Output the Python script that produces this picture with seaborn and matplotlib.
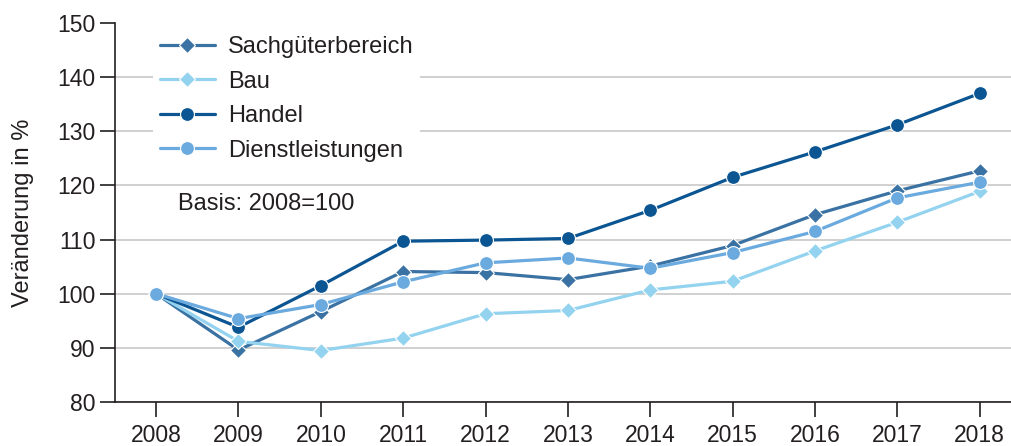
import matplotlib
matplotlib.use("Agg")
import matplotlib.pyplot as plt
import seaborn as sns
import pandas as pd

years = [2008, 2009, 2010, 2011, 2012, 2013, 2014, 2015, 2016, 2017, 2018]
sachgueter = [100, 89.6, 96.7, 104.1, 103.9, 102.6, 105.1, 108.9, 114.6, 119.0, 122.7]
bau = [100, 91.2, 89.5, 91.8, 96.3, 96.9, 100.7, 102.3, 107.9, 113.2, 118.9]
handel = [100, 93.8, 101.5, 109.7, 109.9, 110.2, 115.4, 121.5, 126.2, 131.2, 137.0]
dienst = [100, 95.4, 98.0, 102.2, 105.7, 106.6, 104.7, 107.6, 111.5, 117.7, 120.6]

series_names = ["Sachgüterbereich", "Bau", "Handel", "Dienstleistungen"]
series_values = [sachgueter, bau, handel, dienst]
colors = ["#3a72a3", "#93d3ef", "#0a5592", "#6aaade"]
markers = ["D", "D", "o", "o"]
msizes = [8, 8, 10, 10]

y_ticks = [80, 90, 100, 110, 120, 130, 140, 150]
y_label = "Veränderung in %"
note = "Basis: 2008=100"

sns.set_theme(style="white")
plt.rcParams["font.family"] = ["Liberation Sans", "DejaVu Sans"]

fig = plt.figure(figsize=(10.11, 4.46), dpi=100)
ax = fig.add_axes([0.1137, 0.0987, 0.8863, 0.8497])

for name, vals, c, m, ms in zip(series_names, series_values, colors, markers, msizes):
    df = pd.DataFrame({"Jahr": years, "Wert": vals})
    sns.lineplot(data=df, x="Jahr", y="Wert", ax=ax, color=c, marker=m,
                 markersize=ms, markeredgecolor="white", markeredgewidth=0.8,
                 linewidth=2.3, label=name, zorder=3)

ax.set_xlim(2007.5, 2018.38)
ax.set_ylim(80, 150)
ax.set_xticks(years)
ax.set_xticklabels([str(y) for y in years])
ax.set_yticks(y_ticks)
ax.set_xlabel("")
ax.set_ylabel(y_label, fontsize=17, color="#231f20", labelpad=17)

ax.yaxis.grid(True, color="#c8c8c8", linewidth=1.2, zorder=0)
ax.xaxis.grid(False)
ax.get_ygridlines()[-1].set_visible(False)
ax.set_axisbelow(True)

for s in ["top", "right"]:
    ax.spines[s].set_visible(False)
for s in ["left", "bottom"]:
    ax.spines[s].set_color("#231f20")
    ax.spines[s].set_linewidth(1.2)

ax.tick_params(axis="both", which="major", direction="out", length=11, width=1.2,
               color="#231f20", labelsize=16.5, labelcolor="#231f20", pad=3,
               left=True, bottom=True)
ax.tick_params(axis="x", pad=5)

leg = ax.legend(loc="upper left", bbox_to_anchor=(0.042, 0.984), frameon=True,
                facecolor="white", edgecolor="none", framealpha=1, fancybox=False,
                fontsize=17, handlelength=2.33, handletextpad=0.55,
                labelspacing=0.53, borderpad=0.3, borderaxespad=0)
for t in leg.get_texts():
    t.set_color("#231f20")

ax.text(2008.27, 116.5, note, fontsize=17, color="#231f20", va="center", ha="left")

fig.savefig("out.png", dpi=100)
